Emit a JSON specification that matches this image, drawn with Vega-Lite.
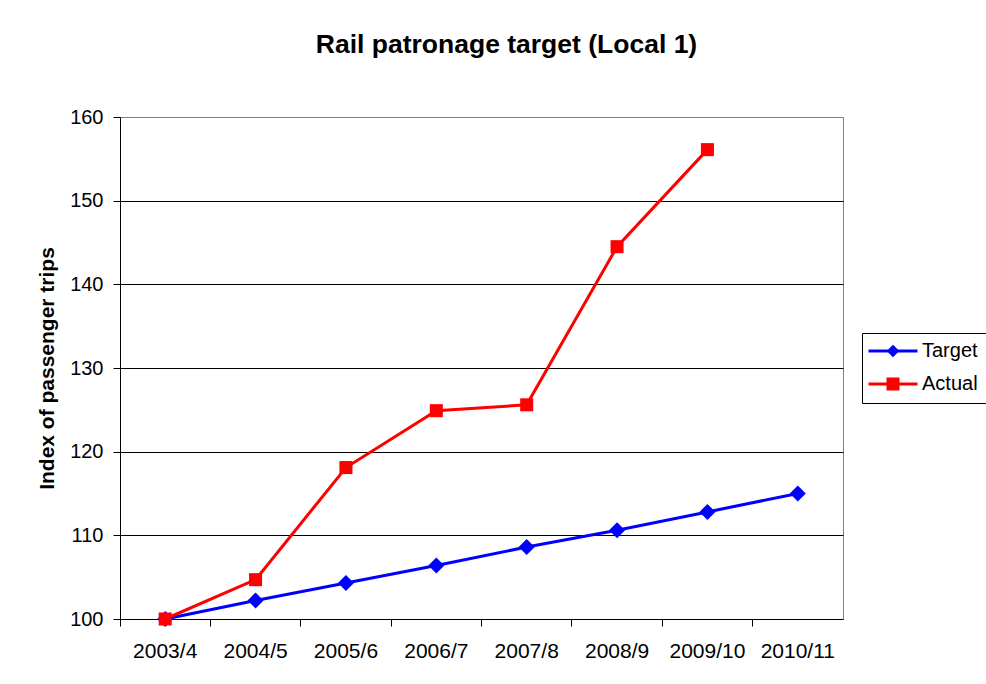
{
  "$schema": "https://vega.github.io/schema/vega-lite/v6.json",
  "width": 723,
  "height": 502,
  "autosize": {"type": "none"},
  "padding": {"left": 120, "top": 117, "right": 143, "bottom": 65},
  "background": "white",
  "title": {
    "text": "Rail patronage target (Local 1)",
    "font": "Liberation Sans",
    "fontSize": 26.5,
    "fontWeight": "bold",
    "color": "#000000",
    "offset": 49,
    "dx": 25
  },
  "data": {
    "values": [
      {"series": "Target", "year": "2003/4", "value": 100},
      {"series": "Target", "year": "2004/5", "value": 102.2},
      {"series": "Target", "year": "2005/6", "value": 104.3},
      {"series": "Target", "year": "2006/7", "value": 106.4},
      {"series": "Target", "year": "2007/8", "value": 108.6},
      {"series": "Target", "year": "2008/9", "value": 110.6},
      {"series": "Target", "year": "2009/10", "value": 112.8},
      {"series": "Target", "year": "2010/11", "value": 115.0},
      {"series": "Actual", "year": "2003/4", "value": 100},
      {"series": "Actual", "year": "2004/5", "value": 104.7},
      {"series": "Actual", "year": "2005/6", "value": 118.1},
      {"series": "Actual", "year": "2006/7", "value": 124.9},
      {"series": "Actual", "year": "2007/8", "value": 125.6},
      {"series": "Actual", "year": "2008/9", "value": 144.5},
      {"series": "Actual", "year": "2009/10", "value": 156.1}
    ]
  },
  "encoding": {
    "y": {
      "field": "value",
      "type": "quantitative",
      "scale": {"domain": [100, 160], "nice": false, "zero": false},
      "title": "Index of passenger trips",
      "axis": {
        "values": [100, 110, 120, 130, 140, 150, 160],
        "tickSize": 7,
        "tickColor": "#000000",
        "domainColor": "#000000",
        "labelPadding": 10,
        "labelFont": "Liberation Sans",
        "labelFontSize": 20,
        "labelColor": "#000000",
        "titleFont": "Liberation Sans",
        "titleFontSize": 21,
        "titleFontWeight": "bold",
        "titleColor": "#000000",
        "titlePadding": 12,
        "grid": true,
        "gridColor": {"condition": {"test": "datum.value == 160", "value": "#808080"}, "value": "#000000"},
        "gridWidth": 1
      }
    },
    "color": {
      "field": "series",
      "type": "nominal",
      "scale": {"domain": ["Target", "Actual"], "range": ["#0000ff", "#ff0000"]},
      "legend": {
        "orient": "none",
        "legendX": 742,
        "legendY": 216,
        "title": null,
        "strokeColor": "#000000",
        "fillColor": "#ffffff",
        "padding": 8,
        "labelFont": "Liberation Sans",
        "labelFontSize": 20,
        "labelColor": "#000000",
        "symbolSize": 100,
        "symbolStrokeWidth": 3,
        "symbolOffset": 13,
        "labelOffset": 19,
        "rowPadding": 11,
        "encode": {
          "symbols": {
            "update": {
              "shape": {"signal": "datum.value === 'Target' ? 'M-4.9,0H4.9M0,-0.85L0.85,0L0,0.85L-0.85,0Z' : 'M-4.9,0H4.9M-1,-1H1V1H-1Z'"},
              "fill": {"signal": "datum.value === 'Target' ? '#0000ff' : '#ff0000'"},
              "stroke": {"signal": "datum.value === 'Target' ? '#0000ff' : '#ff0000'"},
              "fillOpacity": {"value": 1},
              "opacity": {"value": 1}
            }
          }
        }
      }
    }
  },
  "layer": [
    {
      "transform": [{"filter": "datum.series === 'Target'"}],
      "mark": {"type": "line", "strokeWidth": 3, "point": {"shape": "diamond", "size": 256, "filled": true, "opacity": 1}},
      "encoding": {
        "x": {
          "field": "year",
          "type": "ordinal",
          "sort": null,
          "scale": {"type": "band", "domain": ["2003/4", "2004/5", "2005/6", "2006/7", "2007/8", "2008/9", "2009/10", "2010/11"], "paddingInner": 0, "paddingOuter": 0},
          "title": null,
          "axis": {
            "orient": "bottom",
            "bandPosition": 0,
            "labels": false,
            "ticks": true,
            "tickSize": 7,
            "tickColor": "#000000",
            "domain": true,
            "domainColor": "#000000",
            "grid": false,
            "title": null
          }
        }
      }
    },
    {
      "transform": [{"filter": "datum.series === 'Actual'"}],
      "mark": {"type": "line", "strokeWidth": 3, "point": {"shape": "square", "size": 170, "filled": true, "opacity": 1}},
      "encoding": {
        "x": {
          "field": "year",
          "type": "ordinal",
          "sort": null,
          "scale": {"type": "band", "domain": ["2003/4", "2004/5", "2005/6", "2006/7", "2007/8", "2008/9", "2009/10", "2010/11"], "paddingInner": 0, "paddingOuter": 0},
          "title": null,
          "axis": {
            "orient": "bottom",
            "bandPosition": 0.5,
            "labels": true,
            "ticks": false,
            "tickSize": 0,
            "domain": false,
            "grid": false,
            "labelAngle": 0,
            "labelPadding": 21,
            "labelFont": "Liberation Sans",
            "labelFontSize": 21,
            "labelColor": "#000000",
            "title": null
          }
        }
      }
    }
  ],
  "resolve": {"axis": {"x": "independent"}},
  "config": {
    "font": "Liberation Sans",
    "view": {"stroke": "#808080", "strokeWidth": 1}
  }
}
